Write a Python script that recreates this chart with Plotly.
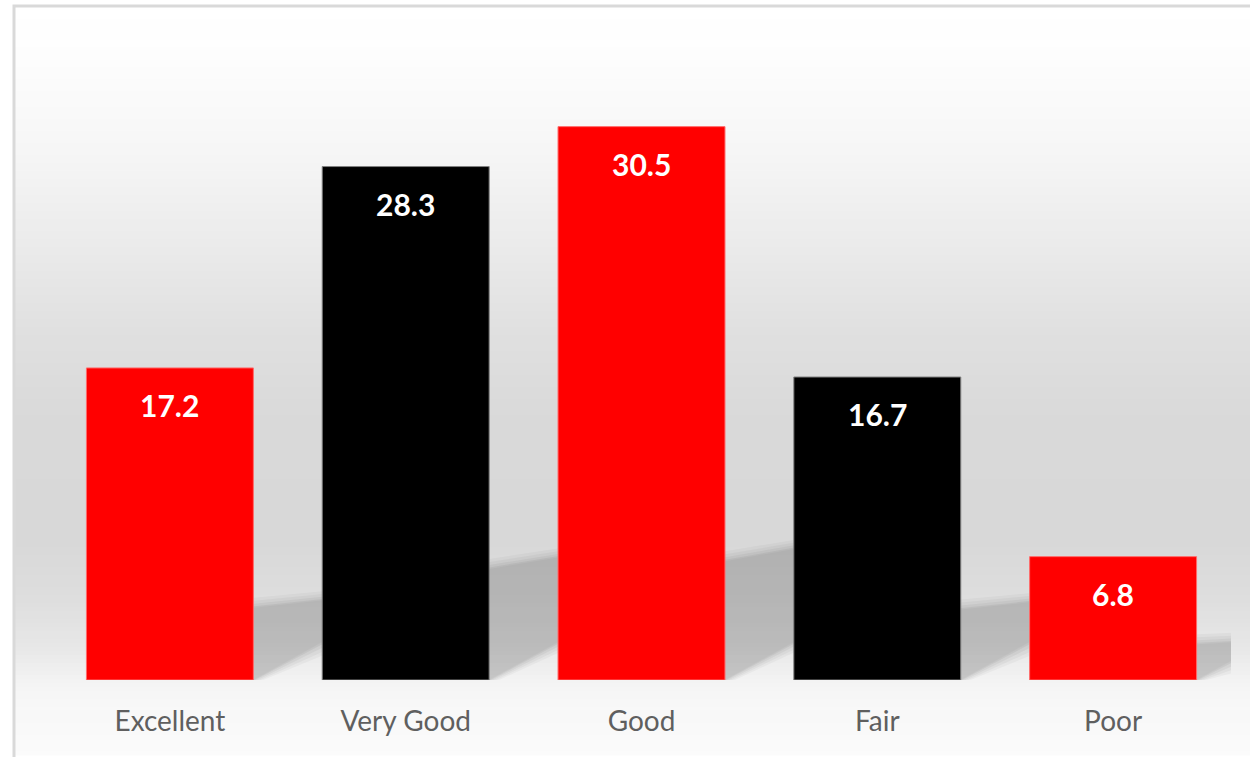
import numpy as np
import plotly.graph_objects as go

# ---- data ----
categories = ["Excellent", "Very Good", "Good", "Fair", "Poor"]
values = [17.2, 28.3, 30.5, 16.7, 6.8]
value_labels = ["17.2", "28.3", "30.5", "16.7", "6.8"]
bar_colors = ["#ff0000", "#000000", "#ff0000", "#000000", "#ff0000"]
edge_colors = ["#ff6a6a", "#808080", "#ff6a6a", "#808080", "#ff6a6a"]

# ---- layout geometry ----
W, H = 1250, 757
ML, MR, MT, MB = 52, 19, 45, 77
PW, PH = W - ML - MR, H - MT - MB
YMAX = 35
BARGAP = 0.292
px_per_x = PW / len(categories)
px_per_y = PH / YMAX


def xp(px):
    return (px - ML) / PW


def yp(py):
    return (H - MB - py) / PH


fig = go.Figure()
fig.add_trace(go.Bar(
    x=categories, y=values,
    marker=dict(color=bar_colors, line=dict(color=edge_colors, width=1)),
    hoverinfo="x+y", showlegend=False,
))

shapes = []
# background gradient of the chart area (decorative)
stops_py = [7, 60, 150, 250, 330, 420, 540, 600, 650, 680, 700, 757]
stops_c = [255, 253, 246, 234, 224, 217, 216, 222, 232, 243, 247, 251]
edges = np.arange(7, 758, 4)
for a, b in zip(edges[:-1], edges[1:]):
    c = int(round(np.interp((a + b) / 2, stops_py, stops_c)))
    col = f"rgb({c},{c},{c})"
    shapes.append(dict(type="rect", xref="paper", yref="paper", layer="below",
                       x0=xp(15), x1=xp(1252), y0=yp(a), y1=yp(b + 0.6),
                       fillcolor=col, line=dict(width=0)))
# frame
shapes.append(dict(type="rect", xref="paper", yref="paper", layer="below",
                   x0=xp(14), x1=xp(1262), y0=yp(6), y1=yp(775),
                   fillcolor="rgba(0,0,0,0)", line=dict(color="#d9d9d9", width=3)))

# soft perspective shadows behind the bars (decorative, derived from values)
half = (1 - BARGAP) / 2
for i, v in enumerate(values):
    h0 = 3.5 * v + 12                      # shadow height at bar edge (px)
    reach = 1.0 * h0                       # reach right of the bar (px)
    rise = 0.0015 * h0 * reach             # top edge rises to the right (px)
    low = 0.55 * reach                     # lower diagonal edge (px)
    xr = i + half
    for grow, op in [(10, 0.03), (7, 0.035), (4, 0.045), (1.5, 0.05), (0, 0.03)]:
        x_end = xr + (reach + grow) / px_per_x
        path = (f"M {i - 0.1},0 L {xr + grow / px_per_x},0 "
                f"L {x_end},{max(low - grow, 0) / px_per_y} "
                f"L {x_end},{(h0 + rise + grow) / px_per_y} "
                f"L {xr},{(h0 + grow) / px_per_y} "
                f"L {i - 0.1},{(h0 + grow) / px_per_y} Z")
        shapes.append(dict(type="path", xref="x", yref="y", layer="below", path=path,
                           fillcolor=f"rgba(0,0,0,{op})", line=dict(width=0)))

annotations = []
for c, v, t in zip(categories, values, value_labels):
    annotations.append(dict(x=c, y=v, xref="x", yref="y", text=f"<b>{t}</b>",
                            showarrow=False, yanchor="middle", yshift=-37,
                            font=dict(family="Lato", size=30, color="#ffffff")))

fig.update_layout(
    width=W, height=H, autosize=False,
    margin=dict(l=ML, r=MR, t=MT, b=MB),
    paper_bgcolor="#ffffff",
    plot_bgcolor="rgba(0,0,0,0)",
    bargap=BARGAP,
    shapes=shapes,
    annotations=annotations,
    xaxis=dict(range=[-0.5, len(categories) - 0.5], autorange=False,
               showgrid=False, showline=False, zeroline=False, ticks="",
               ticklabelstandoff=22,
               tickfont=dict(family="Lato", size=28, color="#5f5f5f")),
    yaxis=dict(range=[0, YMAX], visible=False, showgrid=False, zeroline=False),
    font=dict(family="Lato"),
)

fig.write_html("out.html",
               config={"displayModeBar": False, "responsive": False},
               post_script="document.body.style.margin='0px';document.body.style.overflow='hidden';")
